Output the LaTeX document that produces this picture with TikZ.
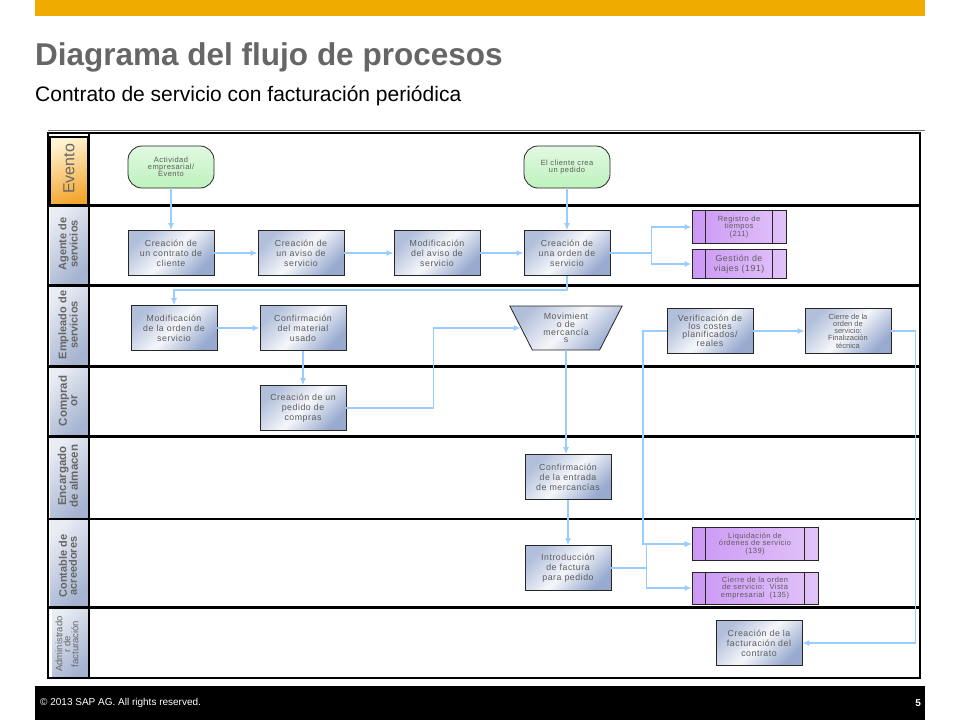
\documentclass[tikz,border=0pt]{standalone}
\usepackage{fontspec}
\setmainfont{Liberation Sans}
\newfontfamily\boxfont{Liberation Sans}[LetterSpace=6]
\usepackage{xcolor}
\usetikzlibrary{shapes.geometric, arrows.meta}

\definecolor{sapgold}{HTML}{F0AB00}
\definecolor{flowblue}{HTML}{99CCFF}
\definecolor{procblue}{HTML}{98AACF}
\definecolor{headblue}{HTML}{A4B3D0}
\definecolor{textgray}{HTML}{5C5C5C}
\definecolor{titlegray}{HTML}{666666}
\definecolor{evgreen}{HTML}{BDF2BD}
\definecolor{purplite}{HTML}{F3E6FD}
\definecolor{purpdark}{HTML}{CC98F4}
\definecolor{evcream}{HTML}{FFF3D2}
\definecolor{evorange}{HTML}{F3A62E}

\tikzset{
  laneline/.style={line width=3pt},
  lanehead/.style={left color=white!75!headblue, right color=headblue, shading angle=45},
  headtext/.style={rotate=90, align=center, text=titlegray, font=\bfseries\fontsize{11}{10}\selectfont},
  procbox/.style={draw=black!85, line width=0.8pt, minimum width=86, minimum height=45,
    inner sep=1pt, align=center, text=textgray, font=\boxfont\fontsize{8.8}{9.8}\selectfont,
    left color=procblue!75, right color=procblue, middle color=white!90!procblue, shading angle=45},
  goodsbox/.style={procbox, trapezium, trapezium angle=63.4, shape border rotate=180,
    trapezium stretches=true, minimum width=113, minimum height=44,
    font=\boxfont\fontsize{8.8}{7.7}\selectfont},
  eventbox/.style={draw=black!85, line width=0.8pt, rounded corners=14pt, minimum width=86,
    minimum height=42, inner sep=1pt, align=center, text=textgray,
    font=\boxfont\fontsize{7.5}{7}\selectfont, top color=white!55!evgreen, bottom color=evgreen},
  subproc/.style={draw=black!85, line width=0.8pt, minimum width=94, minimum height=33,
    inner sep=1pt, align=center, text=textgray, font=\boxfont\fontsize{7.5}{7.5}\selectfont,
    left color=purpdark, middle color=purplite, right color=purplite!55!purpdark},
  flow/.style={draw=flowblue, line width=1.8pt, -{Latex[length=7pt,width=6pt]}},
}

\begin{document}
\begin{tikzpicture}[x=1pt, y=-1pt]
  \useasboundingbox (0,0) rectangle (960,720);
  \fill[white] (0,0) rectangle (960,720);

  % title area
  \fill[sapgold] (35,0) rectangle (925,16);
  \node[anchor=base west, inner sep=0, text=titlegray, font=\bfseries\fontsize{31.5}{31.5}\selectfont] (title) at (35,65) {Diagrama del flujo de procesos};
  \node[anchor=base west, inner sep=0, font=\fontsize{21}{21}\selectfont] (subtitle) at (35,101) {Contrato de servicio con facturación periódica};
  \draw[black!55, line width=1pt] (48,130) -- (925,130);

  % lane headers
  \shade[top color=evcream, bottom color=evorange, shading angle=20] (50,137) rectangle (88,205);
  \draw[line width=2.5pt] (50,137) rectangle (88,205);
  \shade[lanehead] (50,205) rectangle (88,285);
  \shade[lanehead] (50,285) rectangle (88,366);
  \shade[lanehead] (50,366) rectangle (88,436);
  \shade[lanehead] (50,436) rectangle (88,519);
  \shade[lanehead] (50,519) rectangle (88,607);
  \shade[lanehead] (52,607) rectangle (88,678);
  \node[rotate=90, text=titlegray, font=\fontsize{16}{16}\selectfont] (hevento) at (69,169) {Evento};
  \node[headtext] (hagente) at (68,244) {Agente de\\servicios};
  \node[headtext] (hempleado) at (68,325) {Empleado de\\servicios};
  \node[headtext, font=\bfseries\fontsize{11.5}{10.5}\selectfont] (hcomprador) at (68,401) {Comprad\\or};
  \node[headtext, font=\bfseries\fontsize{11.5}{10.5}\selectfont] (halmacen) at (68,476) {Encargado\\de almacen};
  \node[headtext] (hcontable) at (68,566) {Contable de\\acreedores};
  \node[headtext, font=\fontsize{9.5}{6.8}\selectfont] (hfactura) at (67,644) {Administrado\\r de\\facturación};

  % lanes
  \draw[line width=2.5pt] (48,133) rectangle (920,678);
  \draw[line width=2.5pt] (89,133) -- (89,678);
  \draw[laneline] (48,205) -- (920,205);
  \draw[laneline] (48,285) -- (920,285);
  \draw[laneline] (48,366) -- (920,366);
  \draw[laneline] (48,436) -- (920,436);
  \draw[line width=2pt] (48,519) -- (920,519);
  \draw[laneline] (48,607) -- (920,607);

  % events
  \node[eventbox] (actividad) at (171,167) {Actividad\\empresarial/\\Evento};
  \node[eventbox] (cliente) at (567,167) {El cliente crea\\un pedido};

  % steps
  \node[procbox] (contrato) at (171,253) {Creación de\\un contrato de\\cliente};
  \node[procbox] (aviso) at (301,253) {Creación de\\un aviso de\\servicio};
  \node[procbox] (modaviso) at (437,253) {Modificación\\del aviso de\\servicio};
  \node[procbox] (orden) at (567,253) {Creación de\\una orden de\\servicio};
  \node[subproc] (registro) at (739,227) {Registro de\\tiempos\\(211)};
  \node[subproc, minimum height=29, font=\boxfont\fontsize{8.8}{9.8}\selectfont] (viajes) at (739,264) {Gestión de\\viajes (191)};
  \node[procbox] (modorden) at (174,328) {Modificación\\de la orden de\\servicio};
  \node[procbox] (confmat) at (303,328) {Confirmación\\del material\\usado};
  \node[goodsbox] (movim) at (566,328) {Movimient\\o de\\mercancía\\s};
  \node[procbox, font=\boxfont\fontsize{8.8}{7.8}\selectfont] (verif) at (710,331) {Verificación de\\los costes\\planificados/\\reales};
  \node[procbox, font=\fontsize{7.5}{7.3}\selectfont] (cierrefin) at (848,331) {Cierre de la\\orden de\\servicio:\\Finalización\\técnica};
  \node[procbox] (pedcompra) at (303,408) {Creación de un\\pedido de\\compras};
  \node[procbox] (confent) at (568,477) {Confirmación\\de la entrada\\de mercancías};
  \node[procbox] (factura) at (568,568) {Introducción\\de factura\\para pedido};
  \node[subproc, minimum width=126] (liquid) at (755,544) {Liquidación de\\órdenes de servicio\\(139)};
  \node[subproc, minimum width=126, minimum height=32] (cierrevista) at (755,588) {Cierre de la orden\\de servicio:\ \ Vista\\empresarial\ \ (135)};
  \node[procbox] (facturacion) at (759,643) {Creación de la\\facturación del\\contrato};

  \foreach \n in {registro, viajes, liquid, cierrevista}
    \draw[black!85, line width=0.8pt] ([xshift=14]\n.north west) -- ([xshift=14]\n.south west)
      ([xshift=-14]\n.north east) -- ([xshift=-14]\n.south east);

  % flows
  \draw[flow] (actividad) -- (contrato);
  \draw[flow] (contrato) -- (aviso);
  \draw[flow] (aviso) -- (modaviso);
  \draw[flow] (modaviso) -- (orden);
  \draw[flow] (cliente) -- (orden);
  \draw[flow] (orden.east) -- ++(41,0) |- (registro.west);
  \draw[flow] (orden.east) -- ++(41,0) |- (viajes.west);
  \draw[flow] (orden.south) -- ++(0,14) -| (modorden.north);
  \draw[flow] (modorden) -- (confmat);
  \draw[flow] (confmat) -- (pedcompra);
  \draw[flow] (pedcompra.east) -- ++(87,0) |- (movim.west);
  \draw[flow] (movim.south) -- (movim.south |- confent.north);
  \draw[flow] (confent) -- (factura);
  \draw[flow] (verif.west) -- ++(-24,0) |- (liquid.west);
  \draw[flow] (factura.east) -- ++(35,0) |- (liquid.west);
  \draw[flow] (factura.east) -- ++(35,0) |- (cierrevista.west);
  \draw[flow] (verif) -- (cierrefin);
  \draw[flow] (cierrefin.east) -- ++(24,0) |- (facturacion.east);

  % footer
  \fill[black] (35,686) rectangle (925,720);
  \node[anchor=west, inner sep=0, text=white, font=\fontsize{10}{10}\selectfont] (copyright) at (40,703) {© 2013 SAP AG. All rights reserved.};
  \node[anchor=east, inner sep=0, text=white, font=\bfseries\fontsize{10}{10}\selectfont] (pagenum) at (921,703) {5};
\end{tikzpicture}
\end{document}
